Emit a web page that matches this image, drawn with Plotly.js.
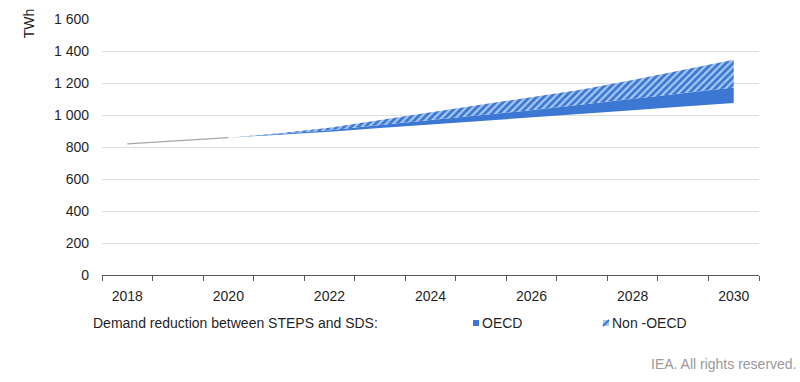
<!DOCTYPE html>
<html>
<head>
<meta charset="utf-8">
<script src="https://cdn.plot.ly/plotly-3.0.1.min.js"></script>
<style>html,body{margin:0;padding:0;background:#fff;}#chart{width:800px;height:382px;}</style>
</head>
<body>
<div id="chart"></div>
<script>
// Data (TWh)
var histYears = [2018, 2019, 2020];
var histDemand = [820, 840, 858];
var projYears = [2020, 2021, 2022, 2023, 2024, 2025, 2026, 2027, 2028, 2029, 2030];
var sdsDemand = [858, 876, 896, 918, 940, 960, 982, 1005, 1030, 1053, 1075];
var oecdReduction = [0, 4, 9, 20, 28, 38, 48, 60, 72, 85, 97];
var nonOecdReduction = [0, 6, 15, 30, 47, 62, 78, 95, 116, 142, 173];
var yTickVals = [0, 200, 400, 600, 800, 1000, 1200, 1400, 1600];
var yTickText = ["0", "200", "400", "600", "800", "1 000", "1 200", "1 400", "1 600"];
var xLabelYears = [2018, 2020, 2022, 2024, 2026, 2028, 2030];
var legendTitle = "Demand reduction between STEPS and SDS:";
var seriesNames = ["OECD", "Non -OECD"];

var oecdTop = sdsDemand.map(function (v, i) { return v + oecdReduction[i]; });
var stepsTop = oecdTop.map(function (v, i) { return v + nonOecdReduction[i]; });

var FONT = "Liberation Sans, Arial, sans-serif";
var FS = 14;
var TXT = "#1f1f1f";
var BLUE = "#3b77d3";
var LIGHT = "#a8c8f2";

var traces = [
  { x: projYears, y: sdsDemand, type: "scatter", mode: "lines", line: { width: 0 }, hoverinfo: "skip", showlegend: false },
  { x: projYears, y: oecdTop, type: "scatter", mode: "lines", line: { width: 0 }, fill: "tonexty", fillcolor: BLUE, name: seriesNames[0], showlegend: false },
  { x: projYears, y: stepsTop, type: "scatter", mode: "lines", line: { width: 0 }, fill: "tonexty", fillcolor: BLUE,
    fillpattern: { shape: "/", fgcolor: LIGHT, bgcolor: BLUE, size: 5, solidity: 0.45 }, name: seriesNames[1], showlegend: false },
  { x: histYears, y: histDemand, type: "scatter", mode: "lines", line: { color: "#a6a6a6", width: 1.3 }, showlegend: false }
];

var minorTicks = [];
for (var t = 2017.5; t <= 2030.6; t += 1) minorTicks.push(t);

var layout = {
  width: 800, height: 382,
  margin: { l: 102, r: 41, t: 19, b: 107 },
  paper_bgcolor: "#ffffff", plot_bgcolor: "#ffffff",
  font: { family: FONT, size: FS, color: TXT },
  xaxis: {
    range: [2017.5, 2030.5], tickmode: "array", tickvals: xLabelYears, ticktext: xLabelYears.map(String),
    ticks: "", showgrid: false, zeroline: false, showline: true, linecolor: "#595959", linewidth: 1,
    ticklabelstandoff: 8,
    minor: { tickmode: "array", tickvals: minorTicks, ticks: "outside", ticklen: 5, tickcolor: "#595959", tickwidth: 1, showgrid: false },
    tickfont: { family: FONT, size: FS, color: TXT }
  },
  yaxis: {
    range: [0, 1600], tickmode: "array", tickvals: yTickVals, ticktext: yTickText,
    showgrid: true, gridcolor: "#dedede", gridwidth: 1, zeroline: false, showline: false, ticks: "",
    ticklabelstandoff: 12,
    tickfont: { family: FONT, size: FS, color: TXT }
  },
  annotations: [
    { text: "TWh", xref: "paper", yref: "paper", x: -0.112, y: 0.985, xanchor: "center", yanchor: "middle",
      textangle: -90, showarrow: false, font: { family: FONT, size: FS, color: TXT } },
    { text: legendTitle, xref: "paper", yref: "paper", x: (91 - 102) / 657, y: -(323 - 275) / 256, xanchor: "left", yanchor: "middle",
      showarrow: false, font: { family: FONT, size: FS, color: TXT } },
    { text: seriesNames[0], xref: "paper", yref: "paper", x: (480 - 102) / 657, y: -(323 - 275) / 256, xanchor: "left", yanchor: "middle",
      showarrow: false, font: { family: FONT, size: FS, color: TXT } },
    { text: seriesNames[1], xref: "paper", yref: "paper", x: (610 - 102) / 657, y: -(323 - 275) / 256, xanchor: "left", yanchor: "middle",
      showarrow: false, font: { family: FONT, size: FS, color: TXT } },
    { text: "IEA. All rights reserved.", xref: "paper", yref: "paper", x: (799 - 102) / 657, y: -(364 - 275) / 256, xanchor: "right", yanchor: "middle",
      showarrow: false, font: { family: FONT, size: FS, color: "#9a9a9a" } }
  ],
  shapes: [
    { type: "rect", xref: "paper", yref: "paper", x0: (473 - 102) / 657, x1: (479 - 102) / 657, y0: -(326 - 275) / 256, y1: -(320 - 275) / 256,
      fillcolor: BLUE, line: { width: 0 } },
    { type: "rect", xref: "paper", yref: "paper", x0: (603 - 102) / 657, x1: (609 - 102) / 657, y0: -(326 - 275) / 256, y1: -(320 - 275) / 256,
      fillcolor: LIGHT, line: { width: 0 } },
    { type: "line", xref: "paper", yref: "paper", x0: (603 - 102) / 657, x1: (609 - 102) / 657, y0: -(326 - 275) / 256, y1: -(320 - 275) / 256,
      line: { color: BLUE, width: 2 } }
  ]
};

Plotly.newPlot("chart", traces, layout, { displayModeBar: false, staticPlot: true });
</script>
</body>
</html>
